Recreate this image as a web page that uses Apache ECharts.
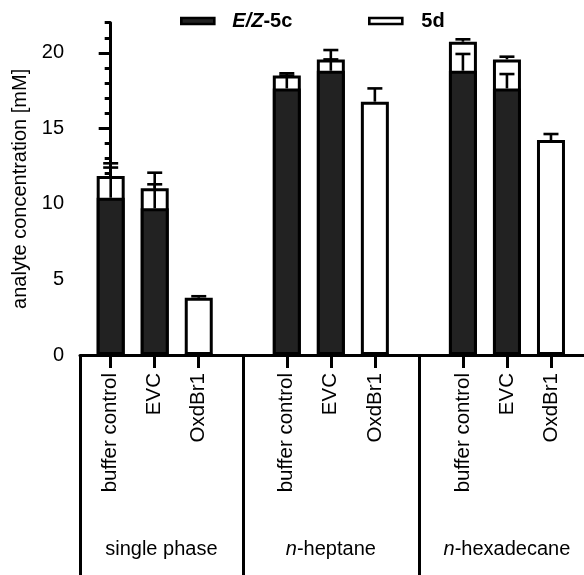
<!DOCTYPE html>
<html><head><meta charset="utf-8">
<script src="https://cdn.jsdelivr.net/npm/echarts@6/dist/echarts.min.js"></script>
<style>html,body{margin:0;padding:0;background:#fff}#c{width:584px;height:575px}</style>
</head><body><div id="c"></div>
<script>
// ---- data ----
const groups = ['single phase', 'n-heptane', 'n-hexadecane'];
const conditions = ['buffer control', 'EVC', 'OxdBr1'];
const ez5c   = [10.41, 9.71, 0,    17.65, 18.82, 0,     18.82, 17.65, 0];
const ez5cSD = [2.00,  1.59, 0,    0.85,  0.75,  0,     1.11,  0.95,  0];
const d5     = [1.44,  1.33, 3.79, 0.85,  0.75,  16.77, 1.92,  1.92,  14.23];
const d5SD   = [0.84,  1.03, 0.10, 0.15,  0.62,  0.88,  0.16,  0.18,  0.40];
const yTicks = [0, 5, 10, 15, 20];
const yMax = 22;

// ---- layout helpers ----
const FONT = 'Liberation Sans, Arial, Helvetica, sans-serif';
const slotsPerGroup = conditions.length + 1;
const xMin = -0.697, xMax = 10.75;
const pos = [];
const labelOf = {};
groups.forEach((g, gi) => conditions.forEach((c, ci) => {
  const p = gi * slotsPerGroup + ci; pos.push(p); labelOf[p] = c;
}));
const separators = [xMin];
for (let gi = 1; gi < groups.length; gi++) separators.push(gi * slotsPerGroup - 1);
const groupCenters = groups.map((g, gi) => {
  const left = gi === 0 ? xMin : gi * slotsPerGroup - 1;
  const right = (gi + 1) * slotsPerGroup - 1;
  return (left + right) / 2;
});
const minorTicks = [];
for (let v = 0; v <= yMax; v++) if (yTicks.indexOf(v) < 0) minorTicks.push(v);

// stacked: the 5d segment sits on top of the E/Z-5c segment
const ezData = pos.map((p, i) => [p, ez5c[i]]);
const stackTopData = pos.map((p, i) => [p, ez5c[i] + d5[i]]);
const errData = [];
pos.forEach((p, i) => {
  if (ez5cSD[i] > 0) errData.push([p, ez5c[i], ez5c[i] + ez5cSD[i]]);
  const top = ez5c[i] + d5[i];
  if (d5SD[i] > 0) errData.push([p, top, top + d5SD[i]]);
});

const LW = 3;
const chart = echarts.init(document.getElementById('c'), null, {renderer: 'canvas'});
const baseX = {type: 'value', min: xMin, max: xMax, splitLine: {show: false}, gridIndex: 0, position: 'bottom'};
chart.setOption({
  animation: false,
  textStyle: {fontFamily: FONT, color: '#000'},
  grid: {left: 80, right: 0, top: 22.7, bottom: 575 - 355, containLabel: false},
  legend: [
    {left: 175, top: 6, itemWidth: 33, itemHeight: 6, selectedMode: false, icon: 'rect',
     data: ['E/Z-5c'],
     itemStyle: {borderColor: '#000', borderWidth: 2.6},
     formatter: () => '{i|E/Z}{b|-5c}',
     textStyle: {rich: {
       i: {fontFamily: FONT, fontSize: 20, fontWeight: 'bold', fontStyle: 'italic', color: '#000', padding: [0, 0, 0, 13]},
       b: {fontFamily: FONT, fontSize: 20, fontWeight: 'bold', color: '#000'}}}},
    {left: 363, top: 6, itemWidth: 33, itemHeight: 6, selectedMode: false, icon: 'rect',
     data: ['5d'],
     itemStyle: {borderColor: '#000', borderWidth: 2.6},
     formatter: () => '{b|5d}',
     textStyle: {rich: {
       b: {fontFamily: FONT, fontSize: 20, fontWeight: 'bold', color: '#000', padding: [0, 0, 0, 14]}}}}
  ],
  xAxis: [
    Object.assign({}, baseX, {
      axisLine: {show: true, onZero: false, lineStyle: {color: '#000', width: 3}},
      axisTick: {show: true, customValues: pos, length: 13, lineStyle: {color: '#000', width: LW}},
      axisLabel: {show: true, customValues: pos, rotate: 90, margin: 18, fontSize: 20.5, color: '#000', fontFamily: FONT,
        formatter: v => labelOf[Math.round(v)] || ''}
    }),
    Object.assign({}, baseX, {
      axisLine: {show: false},
      axisTick: {show: true, customValues: separators, length: 222, lineStyle: {color: '#000', width: 3}},
      axisLabel: {show: false}
    }),
    Object.assign({}, baseX, {
      axisLine: {show: false},
      axisTick: {show: false},
      axisLabel: {show: true, customValues: groupCenters, margin: 184, fontSize: 20, color: '#000', fontFamily: FONT,
        formatter: v => {
          let best = 0;
          groupCenters.forEach((c, k) => { if (Math.abs(c - v) < Math.abs(groupCenters[best] - v)) best = k; });
          const name = groups[best];
          return name.indexOf('n-') === 0 ? '{i|n}{r|' + name.slice(1) + '}' : '{r|' + name + '}';
        },
        rich: {i: {fontStyle: 'italic', fontSize: 20, fontFamily: FONT, color: '#000'},
               r: {fontSize: 20, fontFamily: FONT, color: '#000'}}}
    })
  ],
  yAxis: [
    {type: 'value', min: 0, max: yMax, position: 'left',
     name: 'analyte concentration [mM]', nameLocation: 'middle', nameGap: 46,
     nameTextStyle: {fontSize: 20, color: '#000', fontFamily: FONT},
     splitLine: {show: false},
     axisLine: {show: true, lineStyle: {color: '#000', width: 3}},
     axisTick: {show: true, customValues: yTicks, length: 12, lineStyle: {color: '#000', width: LW}},
     axisLabel: {show: true, customValues: yTicks, margin: 16, fontSize: 20, color: '#000', fontFamily: FONT}},
    {type: 'value', min: 0, max: yMax, position: 'left',
     splitLine: {show: false},
     axisLine: {show: false},
     axisTick: {show: true, customValues: minorTicks, length: 6, lineStyle: {color: '#000', width: LW}},
     axisLabel: {show: false}}
  ],
  series: [
    {name: '5d', type: 'bar', xAxisIndex: 0, yAxisIndex: 0, barWidth: 28, barGap: '-100%',
     itemStyle: {color: '#ffffff', borderColor: '#000', borderWidth: LW}, data: stackTopData, z: 2},
    {name: 'E/Z-5c', type: 'bar', xAxisIndex: 0, yAxisIndex: 0, barWidth: 28, barGap: '-100%',
     itemStyle: {color: '#222222', borderColor: '#000', borderWidth: LW}, data: ezData, z: 3},
    {name: 'err', type: 'custom', xAxisIndex: 0, yAxisIndex: 0, z: 5, data: errData,
     encode: {x: 0, y: [1, 2]},
     renderItem: (params, api) => {
       const x = api.value(0);
       const a = api.coord([x, api.value(1)]);
       const b = api.coord([x, api.value(2)]);
       const hw = 7.5;
       const st = {stroke: '#000', lineWidth: 2.6};
       return {type: 'group', children: [
         {type: 'line', shape: {x1: a[0], y1: a[1], x2: b[0], y2: b[1]}, style: st},
         {type: 'line', shape: {x1: b[0] - hw, y1: b[1], x2: b[0] + hw, y2: b[1]}, style: st}
       ]};
     }}
  ]
});
</script>
</body></html>
